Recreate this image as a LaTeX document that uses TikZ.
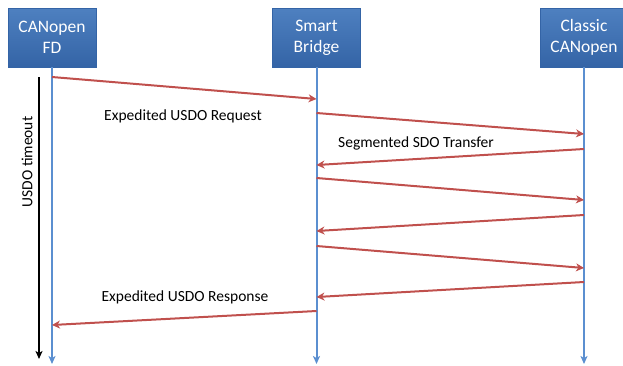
\documentclass[tikz,border=0pt]{standalone}
\usepackage{fontspec}
\setmainfont{Carlito}
\usetikzlibrary{arrows.meta}

\definecolor{boxtop}{RGB}{78,128,192}
\definecolor{boxbot}{RGB}{52,100,166}
\definecolor{lifeblue}{RGB}{91,143,208}
\definecolor{msgred}{RGB}{192,80,77}

\tikzset{
  party/.style={draw=boxbot, top color=boxtop, bottom color=boxbot, text=white,
    minimum width=88pt, minimum height=59pt, align=center,
    font=\fontsize{17.5}{21}\selectfont, inner sep=0pt},
  lifeline/.style={lifeblue, line width=2pt, -{Stealth[length=8pt,width=7pt,inset=2pt]}},
  msg/.style={msgred, line width=2pt, -{Stealth[length=8pt,width=8pt,inset=2.5pt]}},
  msglabel/.style={font=\fontsize{15.5}{18}\selectfont, inner sep=0pt}
}

\begin{document}
\begin{tikzpicture}[x=1pt, y=-1pt]
\useasboundingbox (0,0) rectangle (623,365);

\node[party] (fd) at (52, 37.5) {CANopen\\FD};
\node[party] (sb) at (316.5, 37.5) {Smart\\Bridge};
\node[party] (cc) at (584, 37.5) {Classic\\CANopen};

\coordinate (fdend) at (52, 364);
\coordinate (sbend) at (316.5, 364);
\coordinate (ccend) at (584, 364);
\draw[lifeline] (fd.south) -- (fdend);
\draw[lifeline] (sb.south) -- (sbend);
\draw[lifeline] (cc.south) -- (ccend);

% message end points on the lifelines
\coordinate (fd1) at (52, 77);
\coordinate (sb1) at (316.5, 99);
\coordinate (sb2) at (316.5, 113);
\coordinate (cc2) at (584, 134);
\coordinate (cc3) at (584, 149);
\coordinate (sb3) at (316.5, 165);
\coordinate (sb4) at (316.5, 178);
\coordinate (cc4) at (584, 200);
\coordinate (cc5) at (584, 215);
\coordinate (sb5) at (316.5, 231);
\coordinate (sb6) at (316.5, 246);
\coordinate (cc6) at (584, 268);
\coordinate (cc7) at (584, 282);
\coordinate (sb7) at (316.5, 297);
\coordinate (sb8) at (316.5, 311);
\coordinate (fd8) at (52, 325);

\draw[msg] (fd1) -- (sb1);
\draw[msg] (sb2) -- (cc2);
\draw[msg] (cc3) -- (sb3);
\draw[msg] (sb4) -- (cc4);
\draw[msg] (cc5) -- (sb5);
\draw[msg] (sb6) -- (cc6);
\draw[msg] (cc7) -- (sb7);
\draw[msg] (sb8) -- (fd8);

\node[msglabel] (req) at (183, 116) {Expedited USDO Request};
\node[msglabel] (seg) at (416, 143) {Segmented SDO Transfer};
\node[msglabel] (resp) at (185, 297) {Expedited USDO Response};

% timeout
\coordinate (tstart) at (39, 77);
\coordinate (tend) at (39, 359);
\draw[line width=2pt, -{Stealth[length=8pt,width=7pt,inset=2pt]}] (tstart) -- (tend);
\node[msglabel, rotate=90] (tout) at (27, 162) {USDO timeout};
\end{tikzpicture}
\end{document}
